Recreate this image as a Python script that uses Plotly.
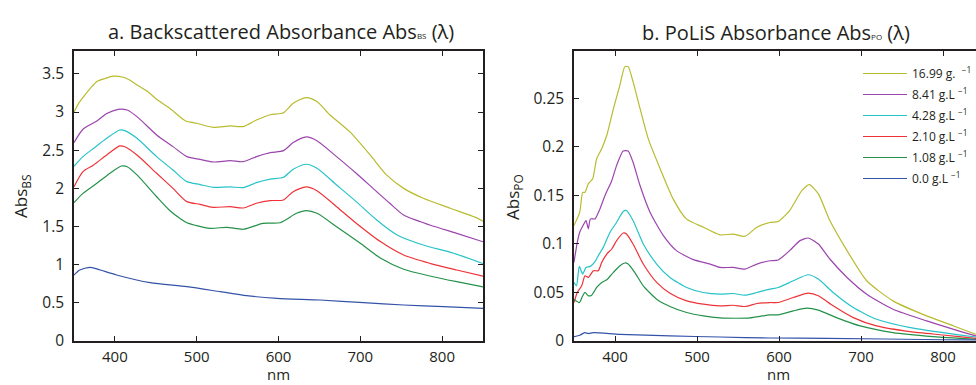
import plotly.graph_objects as go

W, H = 976, 385

# ---------------- Data: a. Backscattered absorbance ----------------
conc_labels = ["16.99 g.  <sup>−1</sup>", "8.41 g.L <sup>−1</sup>", "4.28 g.L <sup>−1</sup>",
               "2.10 g.L <sup>−1</sup>", "1.08 g.L <sup>−1</sup>", "0.0 g.L <sup>−1</sup>"]
colors = ["#b9bb2e", "#9b45ad", "#27c3c8", "#ee3338", "#24914a", "#3452a8"]

bs_nm_1699 = [350, 356, 363, 370, 378, 388, 398, 410, 418, 427, 440, 451, 467, 486, 500, 520, 541, 557, 573, 590,
              606, 618, 634, 647, 663, 687, 712, 732, 753, 777, 810, 843, 850]
bs_1699 = [3.00, 3.12, 3.22, 3.31, 3.40, 3.44, 3.47, 3.456, 3.42, 3.355, 3.27, 3.167, 3.05, 2.887, 2.853, 2.80,
           2.818, 2.81, 2.896, 2.965, 2.99, 3.115, 3.19, 3.137, 2.962, 2.743, 2.438, 2.176, 2.0, 1.87, 1.74, 1.61, 1.57]

bs_nm_841 = [350, 361, 378, 390, 404, 415, 427, 451, 471, 488, 504, 520, 541, 557, 573, 590, 606, 618, 634, 647,
             671, 695, 720, 736, 753, 785, 818, 850]
bs_841 = [2.60, 2.775, 2.883, 2.98, 3.036, 3.027, 2.94, 2.70, 2.547, 2.416, 2.38, 2.346, 2.363, 2.35, 2.416, 2.468,
          2.494, 2.60, 2.674, 2.625, 2.416, 2.198, 1.957, 1.805, 1.65, 1.52, 1.41, 1.30]

bs_nm_428 = [350, 361, 374, 390, 406, 412, 427, 451, 471, 488, 504, 520, 541, 557, 573, 590, 606, 618, 634, 647,
             671, 695, 720, 745, 777, 814, 850]
bs_428 = [2.29, 2.416, 2.525, 2.656, 2.765, 2.756, 2.656, 2.416, 2.24, 2.088, 2.05, 2.014, 2.02, 2.01, 2.075, 2.12,
          2.145, 2.25, 2.316, 2.263, 2.045, 1.826, 1.586, 1.39, 1.258, 1.15, 1.015]

bs_nm_210 = [350, 361, 374, 390, 406, 412, 427, 451, 471, 488, 504, 520, 541, 557, 573, 590, 606, 618, 634, 647,
             671, 692, 725, 753, 785, 818, 850]
bs_210 = [2.02, 2.22, 2.307, 2.438, 2.556, 2.546, 2.438, 2.198, 2.0, 1.826, 1.79, 1.752, 1.76, 1.743, 1.805, 1.84,
          1.848, 1.957, 2.02, 1.97, 1.76, 1.57, 1.30, 1.127, 1.018, 0.93, 0.85]

bs_nm_108 = [350, 361, 378, 394, 408, 415, 427, 451, 467, 481, 488, 516, 537, 557, 581, 602, 622, 634, 647, 671,
             700, 725, 753, 785, 818, 850]
bs_108 = [1.813, 1.935, 2.067, 2.198, 2.293, 2.284, 2.176, 1.89, 1.71, 1.595, 1.55, 1.477, 1.49, 1.464, 1.542, 1.55,
          1.673, 1.708, 1.673, 1.498, 1.28, 1.084, 0.94, 0.852, 0.777, 0.71]

bs_nm_0 = [350, 357, 370, 382, 402, 443, 488, 529, 561, 598, 651, 704, 753, 802, 850]
bs_0 = [0.865, 0.93, 0.966, 0.93, 0.865, 0.764, 0.712, 0.646, 0.594, 0.559, 0.537, 0.502, 0.472, 0.45, 0.428]

# ---------------- Data: b. PoLiS absorbance ----------------
po_nm_1699 = [350, 357, 360.6, 363.4, 367.5, 372.8, 377.7, 383.8, 390, 398, 406, 412, 416, 422, 430.5, 440.6, 455,
              471, 487, 508, 528, 544, 558.5, 573, 589, 599, 613, 628, 637, 648, 662, 683, 707, 739, 780, 813, 840, 850]
po_1699 = [0.1188, 0.1326, 0.153, 0.153, 0.162, 0.167, 0.1877, 0.198, 0.2118, 0.239, 0.2634, 0.2824, 0.2824, 0.2669,
           0.2394, 0.208, 0.1774, 0.146, 0.1257, 0.117, 0.1092, 0.11, 0.1078, 0.117, 0.122, 0.123, 0.1343, 0.155,
           0.161, 0.1515, 0.124, 0.093, 0.062, 0.0413, 0.0258, 0.0155, 0.0069, 0.004]

po_nm_841 = [350, 354, 357, 361, 364.6, 367.5, 370, 375.6, 381.7, 387.8, 396, 402, 410, 416, 422, 430.5, 442.7, 459,
             475, 495.5, 516, 528, 544, 558.5, 573, 589, 599, 613, 625.6, 635.7, 648, 662, 683, 707, 739, 780, 813,
             840, 850]
po_841 = [0.081, 0.1016, 0.112, 0.1188, 0.124, 0.1154, 0.1257, 0.1257, 0.136, 0.1498, 0.165, 0.1808, 0.1956, 0.1956,
          0.184, 0.16, 0.1326, 0.1085, 0.093, 0.0837, 0.0792, 0.0757, 0.0757, 0.074, 0.0792, 0.0826, 0.0834, 0.093,
          0.1033, 0.106, 0.0999, 0.0844, 0.0654, 0.0482, 0.0327, 0.0207, 0.012, 0.0052, 0.003]

po_nm_428 = [350, 353, 356.5, 360.6, 364.6, 370, 375.6, 379.6, 385.7, 394, 402, 410, 414, 422, 434.5, 450.8, 467,
             487.4, 507.7, 528, 544, 558.5, 573, 589, 599, 617.5, 635.7, 648, 666, 690.6, 719, 760, 800, 840, 850]
po_428 = [0.0603, 0.0568, 0.0768, 0.0689, 0.0757, 0.0768, 0.0816, 0.0878, 0.0964, 0.1119, 0.1222, 0.1333, 0.1343,
          0.124, 0.0999, 0.0792, 0.0654, 0.0551, 0.0499, 0.0482, 0.0489, 0.0472, 0.0499, 0.0534, 0.0551, 0.062,
          0.0682, 0.0637, 0.0499, 0.0344, 0.0224, 0.0138, 0.0086, 0.0041, 0.003]

po_nm_210 = [350, 354, 359.4, 363.4, 367.5, 373.6, 379.6, 383.8, 390, 396, 402, 410, 414, 422, 434.5, 450.8, 467,
             487.4, 507.7, 528, 544, 558.5, 573, 589, 599, 617.5, 635.7, 648, 666, 690.6, 719, 760, 800, 840, 850]
po_210 = [0.0396, 0.05, 0.0568, 0.0671, 0.0654, 0.0723, 0.0723, 0.0809, 0.0895, 0.0947, 0.1033, 0.1112, 0.1102,
          0.0999, 0.0792, 0.0603, 0.0492, 0.0413, 0.0379, 0.0362, 0.0368, 0.0355, 0.0386, 0.0396, 0.0396, 0.0448,
          0.0492, 0.0465, 0.0362, 0.0241, 0.0155, 0.0096, 0.0062, 0.0028, 0.002]

po_nm_108 = [350, 356.5, 360.6, 363.4, 367.5, 371.6, 377.7, 383.8, 390, 398, 406, 412, 416, 424, 434.5, 450.8, 467,
             487.4, 507.7, 528, 548, 564.6, 589, 599, 617.5, 634, 648, 670, 699, 739, 788, 840, 850]
po_108 = [0.043, 0.0396, 0.0465, 0.05, 0.0465, 0.0472, 0.0551, 0.0603, 0.063, 0.0706, 0.0775, 0.0803, 0.0792, 0.0706,
          0.0568, 0.043, 0.0355, 0.0293, 0.0258, 0.0238, 0.0234, 0.0238, 0.0269, 0.0269, 0.031, 0.0338, 0.0317,
          0.0241, 0.0155, 0.0086, 0.0045, 0.0018, 0.0015]

po_nm_0 = [350, 357, 363, 367.5, 373.6, 406, 467, 528, 589, 658, 800, 850]
po_0 = [0.0045, 0.0059, 0.0086, 0.0076, 0.0086, 0.0069, 0.0052, 0.0041, 0.0031, 0.0028, 0.0013, 0.001]

bs_x = [bs_nm_1699, bs_nm_841, bs_nm_428, bs_nm_210, bs_nm_108, bs_nm_0]
bs_y = [bs_1699, bs_841, bs_428, bs_210, bs_108, bs_0]
po_x = [po_nm_1699, po_nm_841, po_nm_428, po_nm_210, po_nm_108, po_nm_0]
po_y = [po_1699, po_841, po_428, po_210, po_108, po_0]

bs_yticks = [0, 0.5, 1, 1.5, 2, 2.5, 3, 3.5]
po_yticks = [0, 0.05, 0.1, 0.15, 0.2, 0.25]
x_ticks = [400, 500, 600, 700, 800]

FONT = "Open Sans, Lato, sans-serif"
AXC = "#231f20"

fig = go.Figure()
for i in range(6):
    fig.add_trace(go.Scatter(x=bs_x[i], y=bs_y[i], mode="lines", xaxis="x", yaxis="y",
                             line=dict(color=colors[i], width=1.2, shape="spline", smoothing=0.7),
                             showlegend=False))
for i in range(6):
    fig.add_trace(go.Scatter(x=po_x[i], y=po_y[i], mode="lines", xaxis="x2", yaxis="y2",
                             name=conc_labels[i], legendgroup=str(i),
                             line=dict(color=colors[i], width=1.2, shape="spline", smoothing=0.6),
                             showlegend=True))

def px_x(p):
    return p / W

def px_y(p):
    return 1 - p / H

ydom = [px_y(341), px_y(51)]
common_ax = dict(showgrid=False, zeroline=False, showline=True, linecolor=AXC, linewidth=1.5,
                 ticks="inside", ticklen=5, tickwidth=1, tickcolor=AXC, automargin=False)
tick_font = dict(family=FONT, size=15.5, color="#231f20")
xtick_font = dict(family=FONT, size=15, color="#231f20")

fig.update_layout(
    width=W, height=H, margin=dict(l=0, r=0, t=0, b=0, autoexpand=False),
    paper_bgcolor="white", plot_bgcolor="white",
    font=dict(family=FONT, color="#231f20"),
    xaxis=dict(domain=[px_x(74), px_x(483)], range=[350, 850], tickvals=x_ticks, anchor="y",
               mirror="ticks", ticklabelstandoff=1, tickfont=xtick_font, **common_ax),
    yaxis=dict(domain=ydom, range=[0, 3.8], tickvals=bs_yticks, anchor="x", mirror="ticks",
               ticklabelstandoff=5, tickfont=tick_font, **common_ax),
    xaxis2=dict(domain=[px_x(574), 1.0], range=[350, 350 + (976 - 574) / 0.82], tickvals=x_ticks, anchor="y2",
                mirror="ticks", ticklabelstandoff=1, tickfont=xtick_font, **common_ax),
    yaxis2=dict(domain=ydom, range=[0, 0.2985], tickvals=po_yticks, anchor="x2", mirror=False,
                ticklabelstandoff=5, tickfont=tick_font, **common_ax),
    legend=dict(x=px_x(858), y=px_y(59), xanchor="left", yanchor="top", bgcolor="rgba(0,0,0,0)",
                font=dict(family=FONT, size=12, color="#231f20"), tracegroupgap=2, itemwidth=44),
    showlegend=True,
)

ann = []
ann.append(dict(text="a. Backscattered Absorbance Abs<span style='font-size:8px'>BS</span> (λ)",
                x=px_x(281), y=px_y(31), xref="paper", yref="paper", showarrow=False,
                xanchor="center", yanchor="middle", font=dict(family=FONT, size=20, color="#231f20")))
ann.append(dict(text="b. PoLiS Absorbance Abs<span style='font-size:8px'>PO</span> (λ)",
                x=px_x(776), y=px_y(32), xref="paper", yref="paper", showarrow=False,
                xanchor="center", yanchor="middle", font=dict(family=FONT, size=20, color="#231f20")))
ann.append(dict(text="Abs<sub>BS</sub>", x=px_x(22), y=px_y(197), xref="paper", yref="paper", showarrow=False,
                textangle=-90, xanchor="center", yanchor="middle", font=dict(family=FONT, size=17)))
ann.append(dict(text="Abs<sub>PO</sub>", x=px_x(514), y=px_y(197), xref="paper", yref="paper", showarrow=False,
                textangle=-90, xanchor="center", yanchor="middle", font=dict(family=FONT, size=17)))
ann.append(dict(text="nm", x=px_x(278), y=0, xref="paper", yref="paper", showarrow=False, borderpad=0,
                xanchor="center", yanchor="bottom", font=dict(family=FONT, size=15)))
ann.append(dict(text="nm", x=px_x(778), y=0, xref="paper", yref="paper", showarrow=False, borderpad=0,
                xanchor="center", yanchor="bottom", font=dict(family=FONT, size=15)))
fig.update_layout(annotations=ann)

post = (
    "document.documentElement.style.margin='0';"
    "document.documentElement.style.overflow='hidden';"
    "document.body.style.margin='0';"
    "document.body.style.overflow='hidden';"
    "var gd=document.getElementById('{plot_id}');"
    "gd.style.position='fixed';gd.style.top='0px';gd.style.left='0px';"
)
fig.write_html("out.html", post_script=post, config={"displayModeBar": False})
